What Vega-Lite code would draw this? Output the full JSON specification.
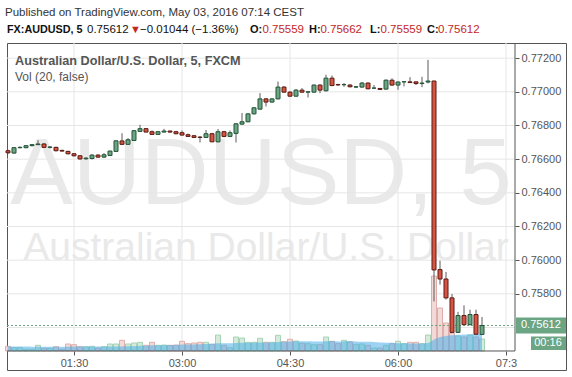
{
  "$schema": "https://vega.github.io/schema/vega-lite/v6.json",
  "width": 559,
  "height": 327,
  "autosize": {"type": "none"},
  "padding": {"left": 7, "top": 43, "right": 6, "bottom": 7},
  "background": "#ffffff",
  "config": {
    "view": {"stroke": "#555555", "fill": "#ffffff", "strokeWidth": 1},
    "scale": {"continuousPadding": 0},
    "axis": {"grid": false, "domain": false, "labelFont": "Liberation Sans", "labelFontSize": 11, "labelColor": "#555555", "tickColor": "#555555", "tickSize": 4, "labelPadding": 2},
    "text": {"font": "Liberation Sans"}
  },
  "datasets": {
    "candles": [
      {"t":"2016-05-03T00:35:00","o":0.76650,"h":0.76656,"l":0.76630,"c":0.76638,"v":94,"m":92},
      {"t":"2016-05-03T00:40:00","o":0.76636,"h":0.76672,"l":0.76632,"c":0.76668,"v":66,"m":92},
      {"t":"2016-05-03T00:45:00","o":0.76668,"h":0.76676,"l":0.76664,"c":0.76670,"v":66,"m":90},
      {"t":"2016-05-03T00:50:00","o":0.76668,"h":0.76684,"l":0.76665,"c":0.76680,"v":34,"m":88},
      {"t":"2016-05-03T00:55:00","o":0.76680,"h":0.76690,"l":0.76676,"c":0.76686,"v":34,"m":86},
      {"t":"2016-05-03T01:00:00","o":0.76686,"h":0.76712,"l":0.76684,"c":0.76690,"v":114,"m":86},
      {"t":"2016-05-03T01:05:00","o":0.76690,"h":0.76696,"l":0.76666,"c":0.76670,"v":54,"m":85},
      {"t":"2016-05-03T01:10:00","o":0.76670,"h":0.76678,"l":0.76664,"c":0.76672,"v":54,"m":84},
      {"t":"2016-05-03T01:15:00","o":0.76670,"h":0.76674,"l":0.76646,"c":0.76650,"v":86,"m":84},
      {"t":"2016-05-03T01:20:00","o":0.76652,"h":0.76656,"l":0.76645,"c":0.76648,"v":34,"m":84},
      {"t":"2016-05-03T01:25:00","o":0.76646,"h":0.76650,"l":0.76628,"c":0.76632,"v":140,"m":86},
      {"t":"2016-05-03T01:30:00","o":0.76632,"h":0.76636,"l":0.76616,"c":0.76620,"v":126,"m":88},
      {"t":"2016-05-03T01:35:00","o":0.76620,"h":0.76624,"l":0.76598,"c":0.76601,"v":86,"m":88},
      {"t":"2016-05-03T01:40:00","o":0.76602,"h":0.76612,"l":0.76596,"c":0.76606,"v":86,"m":88},
      {"t":"2016-05-03T01:45:00","o":0.76604,"h":0.76630,"l":0.76598,"c":0.76624,"v":94,"m":88},
      {"t":"2016-05-03T01:50:00","o":0.76624,"h":0.76630,"l":0.76608,"c":0.76612,"v":60,"m":88},
      {"t":"2016-05-03T01:55:00","o":0.76612,"h":0.76636,"l":0.76608,"c":0.76626,"v":86,"m":89},
      {"t":"2016-05-03T02:00:00","o":0.76622,"h":0.76650,"l":0.76618,"c":0.76648,"v":140,"m":90},
      {"t":"2016-05-03T02:05:00","o":0.76646,"h":0.76712,"l":0.76644,"c":0.76709,"v":140,"m":90},
      {"t":"2016-05-03T02:10:00","o":0.76708,"h":0.76754,"l":0.76685,"c":0.76688,"v":214,"m":90},
      {"t":"2016-05-03T02:15:00","o":0.76688,"h":0.76725,"l":0.76684,"c":0.76715,"v":140,"m":93},
      {"t":"2016-05-03T02:20:00","o":0.76711,"h":0.76772,"l":0.76708,"c":0.76769,"v":160,"m":97},
      {"t":"2016-05-03T02:25:00","o":0.76765,"h":0.76804,"l":0.76762,"c":0.76781,"v":174,"m":103},
      {"t":"2016-05-03T02:30:00","o":0.76781,"h":0.76784,"l":0.76758,"c":0.76761,"v":114,"m":107},
      {"t":"2016-05-03T02:35:00","o":0.76763,"h":0.76770,"l":0.76744,"c":0.76747,"v":174,"m":114},
      {"t":"2016-05-03T02:40:00","o":0.76747,"h":0.76766,"l":0.76744,"c":0.76763,"v":114,"m":114},
      {"t":"2016-05-03T02:45:00","o":0.76761,"h":0.76780,"l":0.76758,"c":0.76767,"v":120,"m":117},
      {"t":"2016-05-03T02:50:00","o":0.76767,"h":0.76770,"l":0.76756,"c":0.76761,"v":114,"m":120},
      {"t":"2016-05-03T02:55:00","o":0.76763,"h":0.76768,"l":0.76748,"c":0.76751,"v":120,"m":122},
      {"t":"2016-05-03T03:00:00","o":0.76757,"h":0.76770,"l":0.76740,"c":0.76743,"v":194,"m":130},
      {"t":"2016-05-03T03:05:00","o":0.76745,"h":0.76752,"l":0.76732,"c":0.76735,"v":146,"m":130},
      {"t":"2016-05-03T03:10:00","o":0.76739,"h":0.76742,"l":0.76726,"c":0.76729,"v":160,"m":132},
      {"t":"2016-05-03T03:15:00","o":0.76731,"h":0.76736,"l":0.76699,"c":0.76729,"v":174,"m":136},
      {"t":"2016-05-03T03:20:00","o":0.76729,"h":0.76773,"l":0.76726,"c":0.76751,"v":174,"m":141},
      {"t":"2016-05-03T03:25:00","o":0.76751,"h":0.76756,"l":0.76701,"c":0.76703,"v":134,"m":143},
      {"t":"2016-05-03T03:30:00","o":0.76703,"h":0.76779,"l":0.76700,"c":0.76763,"v":320,"m":156},
      {"t":"2016-05-03T03:35:00","o":0.76763,"h":0.76768,"l":0.76730,"c":0.76735,"v":114,"m":157},
      {"t":"2016-05-03T03:40:00","o":0.76735,"h":0.76770,"l":0.76732,"c":0.76757,"v":66,"m":153},
      {"t":"2016-05-03T03:45:00","o":0.76753,"h":0.76812,"l":0.76699,"c":0.76810,"v":280,"m":160},
      {"t":"2016-05-03T03:50:00","o":0.76808,"h":0.76874,"l":0.76805,"c":0.76822,"v":260,"m":163},
      {"t":"2016-05-03T03:55:00","o":0.76822,"h":0.76872,"l":0.76819,"c":0.76869,"v":174,"m":164},
      {"t":"2016-05-03T04:00:00","o":0.76869,"h":0.76908,"l":0.76866,"c":0.76905,"v":174,"m":165},
      {"t":"2016-05-03T04:05:00","o":0.76897,"h":0.76992,"l":0.76894,"c":0.76958,"v":254,"m":169},
      {"t":"2016-05-03T04:10:00","o":0.76958,"h":0.76962,"l":0.76913,"c":0.76939,"v":174,"m":172},
      {"t":"2016-05-03T04:15:00","o":0.76939,"h":0.76962,"l":0.76936,"c":0.76958,"v":174,"m":172},
      {"t":"2016-05-03T04:20:00","o":0.76958,"h":0.77061,"l":0.76955,"c":0.77028,"v":314,"m":182},
      {"t":"2016-05-03T04:25:00","o":0.77028,"h":0.77034,"l":0.76995,"c":0.76998,"v":186,"m":185},
      {"t":"2016-05-03T04:30:00","o":0.76998,"h":0.77004,"l":0.76970,"c":0.76974,"v":234,"m":191},
      {"t":"2016-05-03T04:35:00","o":0.76974,"h":0.77016,"l":0.76970,"c":0.77010,"v":200,"m":195},
      {"t":"2016-05-03T04:40:00","o":0.77010,"h":0.77022,"l":0.76995,"c":0.76998,"v":154,"m":193},
      {"t":"2016-05-03T04:45:00","o":0.76998,"h":0.77002,"l":0.76966,"c":0.77000,"v":146,"m":193},
      {"t":"2016-05-03T04:50:00","o":0.76998,"h":0.77044,"l":0.76995,"c":0.77040,"v":126,"m":192},
      {"t":"2016-05-03T04:55:00","o":0.77040,"h":0.77044,"l":0.76992,"c":0.77010,"v":126,"m":189},
      {"t":"2016-05-03T05:00:00","o":0.77006,"h":0.77101,"l":0.77002,"c":0.77081,"v":280,"m":195},
      {"t":"2016-05-03T05:05:00","o":0.77081,"h":0.77097,"l":0.77034,"c":0.77037,"v":194,"m":198},
      {"t":"2016-05-03T05:10:00","o":0.77043,"h":0.77048,"l":0.77036,"c":0.77041,"v":146,"m":189},
      {"t":"2016-05-03T05:15:00","o":0.77042,"h":0.77052,"l":0.77030,"c":0.77043,"v":214,"m":194},
      {"t":"2016-05-03T05:20:00","o":0.77040,"h":0.77046,"l":0.77026,"c":0.77030,"v":180,"m":200},
      {"t":"2016-05-03T05:25:00","o":0.77028,"h":0.77034,"l":0.77022,"c":0.77030,"v":134,"m":192},
      {"t":"2016-05-03T05:30:00","o":0.77028,"h":0.77058,"l":0.77025,"c":0.77052,"v":140,"m":186},
      {"t":"2016-05-03T05:35:00","o":0.77052,"h":0.77056,"l":0.77015,"c":0.77018,"v":114,"m":183},
      {"t":"2016-05-03T05:40:00","o":0.77022,"h":0.77040,"l":0.77018,"c":0.77022,"v":60,"m":178},
      {"t":"2016-05-03T05:45:00","o":0.77020,"h":0.77022,"l":0.77012,"c":0.77014,"v":60,"m":168},
      {"t":"2016-05-03T05:50:00","o":0.77016,"h":0.77074,"l":0.77014,"c":0.77069,"v":114,"m":165},
      {"t":"2016-05-03T05:55:00","o":0.77069,"h":0.77080,"l":0.77036,"c":0.77040,"v":146,"m":163},
      {"t":"2016-05-03T06:00:00","o":0.77040,"h":0.77062,"l":0.77012,"c":0.77058,"v":194,"m":157},
      {"t":"2016-05-03T06:05:00","o":0.77059,"h":0.77064,"l":0.77032,"c":0.77060,"v":146,"m":155},
      {"t":"2016-05-03T06:10:00","o":0.77059,"h":0.77087,"l":0.77052,"c":0.77055,"v":174,"m":152},
      {"t":"2016-05-03T06:15:00","o":0.77059,"h":0.77062,"l":0.77040,"c":0.77049,"v":174,"m":151},
      {"t":"2016-05-03T06:20:00","o":0.77049,"h":0.77089,"l":0.77028,"c":0.77052,"v":146,"m":151},
      {"t":"2016-05-03T06:25:00","o":0.77058,"h":0.77190,"l":0.77050,"c":0.77064,"v":320,"m":159},
      {"t":"2016-05-03T06:30:00","o":0.77064,"h":0.77066,"l":0.75755,"c":0.75942,"v":1500,"m":228},
      {"t":"2016-05-03T06:35:00","o":0.75944,"h":0.75997,"l":0.75855,"c":0.75888,"v":860,"m":280},
      {"t":"2016-05-03T06:40:00","o":0.75888,"h":0.75930,"l":0.75766,"c":0.75776,"v":560,"m":300},
      {"t":"2016-05-03T06:45:00","o":0.75776,"h":0.75799,"l":0.75568,"c":0.75571,"v":360,"m":314},
      {"t":"2016-05-03T06:50:00","o":0.75571,"h":0.75693,"l":0.75568,"c":0.75671,"v":300,"m":324},
      {"t":"2016-05-03T06:55:00","o":0.75671,"h":0.75732,"l":0.75617,"c":0.75617,"v":280,"m":330},
      {"t":"2016-05-03T07:00:00","o":0.75617,"h":0.75706,"l":0.75614,"c":0.75677,"v":320,"m":336},
      {"t":"2016-05-03T07:05:00","o":0.75677,"h":0.75706,"l":0.75558,"c":0.75560,"v":280,"m":340},
      {"t":"2016-05-03T07:10:00","o":0.75559,"h":0.75662,"l":0.75559,"c":0.75612,"v":240,"m":340}
    ]
  },
  "layer": [
    {
      "layer": [
        {
          "data": {"values": [{}]},
          "mark": {"type": "text", "text": "AUDUSD, 5", "align": "center", "baseline": "alphabetic", "fontSize": 94, "color": "#e9e9e9"},
          "encoding": {
            "x": {"datum": {"year": 2016, "month": 5, "date": 3, "hours": 4, "minutes": 5, "seconds": 50}, "type": "temporal", "scale": {"domain": [{"year": 2016, "month": 5, "date": 3, "hours": 0, "minutes": 34, "seconds": 10}, {"year": 2016, "month": 5, "date": 3, "hours": 8, "minutes": 20, "seconds": 0}], "nice": false, "padding": 0}},
            "y": {"datum": 0.763336, "type": "quantitative", "scale": {"domain": [0.753476, 0.772899], "nice": false, "zero": false}, "axis": null}
          }
        },
        {
          "data": {"values": [{}]},
          "mark": {"type": "text", "text": "Australian Dollar/U.S. Dollar", "align": "center", "baseline": "alphabetic", "fontSize": 39, "color": "#e9e9e9"},
          "encoding": {
            "x": {"datum": {"year": 2016, "month": 5, "date": 3, "hours": 4, "minutes": 10, "seconds": 0}, "type": "temporal"},
            "y": {"datum": 0.760010, "type": "quantitative"}
          }
        },
        {
          "data": {"values": [{"g": "2016-05-03T01:30:00"}, {"g": "2016-05-03T03:00:00"}, {"g": "2016-05-03T04:30:00"}, {"g": "2016-05-03T06:00:00"}, {"g": "2016-05-03T07:30:00"}]},
          "mark": {"type": "rule", "color": "#e6e6e6", "strokeWidth": 1},
          "encoding": {
            "x": {"field": "g", "type": "temporal"},
            "y": {"datum": 0.772899, "type": "quantitative"},
            "y2": {"datum": 0.754605}
          }
        },
        {
          "data": {"values": [{"g": 0.756}, {"g": 0.758}, {"g": 0.760}, {"g": 0.762}, {"g": 0.764}, {"g": 0.766}, {"g": 0.768}, {"g": 0.770}, {"g": 0.772}]},
          "mark": {"type": "rule", "color": "#e6e6e6", "strokeWidth": 1},
          "encoding": {
            "y": {"field": "g", "type": "quantitative"},
            "x": {"datum": {"year": 2016, "month": 5, "date": 3, "hours": 0, "minutes": 34, "seconds": 10}, "type": "temporal"},
            "x2": {"datum": {"year": 2016, "month": 5, "date": 3, "hours": 7, "minutes": 37, "seconds": 30}}
          }
        }
      ]
    },
    {
      "data": {"name": "candles"},
      "layer": [
        {
          "mark": {"type": "bar", "width": 5, "strokeWidth": 1},
          "encoding": {
            "x": {"field": "t", "type": "temporal"},
            "y": {"field": "v", "type": "quantitative", "scale": {"domain": [-380, 6160], "nice": false, "zero": false}, "axis": null},
            "y2": {"datum": 0},
            "fill": {"condition": {"test": "datum.c >= datum.o", "value": "#cfe8d6"}, "value": "#f1d6d4"},
            "stroke": {"condition": {"test": "datum.c >= datum.o", "value": "#a6d3b3"}, "value": "#dfaeaa"},
            "fillOpacity": {"value": 0.9}
          }
        },
        {
          "mark": {"type": "area", "interpolate": "monotone", "color": "#4aaeea", "opacity": 0.55},
          "encoding": {
            "x": {"field": "t", "type": "temporal"},
            "y": {"field": "m", "type": "quantitative"},
            "y2": {"datum": 0}
          }
        }
      ]
    },
    {
      "layer": [
        {
          "data": {"values": [{}]},
          "mark": {"type": "rule", "color": "#555555", "strokeWidth": 1},
          "encoding": {
            "x": {"datum": {"year": 2016, "month": 5, "date": 3, "hours": 7, "minutes": 37, "seconds": 30}, "type": "temporal"},
            "y": {"datum": 0.772899, "type": "quantitative"},
            "y2": {"datum": 0.754605}
          }
        },
        {
          "data": {"values": [{}]},
          "mark": {"type": "rule", "color": "#555555", "strokeWidth": 1},
          "encoding": {
            "y": {"datum": 0.754605, "type": "quantitative"},
            "x": {"datum": {"year": 2016, "month": 5, "date": 3, "hours": 0, "minutes": 34, "seconds": 10}, "type": "temporal"},
            "x2": {"datum": {"year": 2016, "month": 5, "date": 3, "hours": 7, "minutes": 37, "seconds": 30}}
          }
        },
        {
          "data": {"values": [{}]},
          "mark": {"type": "rule", "color": "#6ba583", "strokeWidth": 1, "strokeDash": [2, 2]},
          "encoding": {
            "y": {"datum": 0.75612, "type": "quantitative"},
            "x": {"datum": {"year": 2016, "month": 5, "date": 3, "hours": 0, "minutes": 34, "seconds": 10}, "type": "temporal"},
            "x2": {"datum": {"year": 2016, "month": 5, "date": 3, "hours": 7, "minutes": 37, "seconds": 30}}
          }
        },
        {
          "data": {"name": "candles"},
          "mark": {"type": "rule", "color": "#5a5a5a", "strokeWidth": 1},
          "encoding": {
            "x": {"field": "t", "type": "temporal", "axis": {"orient": "bottom", "offset": -19, "values": [{"year": 2016, "month": 5, "date": 3, "hours": 1, "minutes": 30}, {"year": 2016, "month": 5, "date": 3, "hours": 3, "minutes": 0}, {"year": 2016, "month": 5, "date": 3, "hours": 4, "minutes": 30}, {"year": 2016, "month": 5, "date": 3, "hours": 6, "minutes": 0}, {"year": 2016, "month": 5, "date": 3, "hours": 7, "minutes": 30}], "format": "%H:%M", "labelExpr": "datum.label == '07:30' ? '07:3' : datum.label", "labelFlush": false, "labelOverlap": false, "labelBound": false, "title": null}},
            "y": {"field": "l", "type": "quantitative", "scale": {"domain": [0.753476, 0.772899], "nice": false, "zero": false}, "axis": {"orient": "right", "offset": -51, "values": [0.758, 0.760, 0.762, 0.764, 0.766, 0.768, 0.770, 0.772], "format": ".5f", "title": null, "labelPadding": 2}},
            "y2": {"field": "h"}
          }
        },
        {
          "data": {"name": "candles"},
          "mark": {"type": "bar", "width": 4, "strokeWidth": 1},
          "encoding": {
            "x": {"field": "t", "type": "temporal"},
            "y": {"field": "o", "type": "quantitative"},
            "y2": {"field": "c"},
            "fill": {"condition": {"test": "datum.c >= datum.o", "value": "#6ba583"}, "value": "#d75442"},
            "stroke": {"condition": {"test": "datum.c >= datum.o", "value": "#225437"}, "value": "#5b1a13"}
          }
        },
        {
          "data": {"values": [{}]},
          "mark": {"type": "text", "text": "Australian Dollar/U.S. Dollar, 5, FXCM", "align": "left", "baseline": "alphabetic", "fontSize": 12.7, "fontWeight": "bold", "color": "#555555"},
          "encoding": {
            "x": {"datum": {"year": 2016, "month": 5, "date": 3, "hours": 0, "minutes": 40, "seconds": 50}, "type": "temporal"},
            "y": {"datum": 0.771592, "type": "quantitative"}
          }
        },
        {
          "data": {"values": [{}]},
          "mark": {"type": "text", "text": "Vol (20, false)", "align": "left", "baseline": "alphabetic", "fontSize": 12, "color": "#555555"},
          "encoding": {
            "x": {"datum": {"year": 2016, "month": 5, "date": 3, "hours": 0, "minutes": 40, "seconds": 50}, "type": "temporal"},
            "y": {"datum": 0.770641, "type": "quantitative"}
          }
        },
        {
          "data": {"values": [{}]},
          "mark": {"type": "rect", "color": "#6ba583"},
          "encoding": {
            "x": {"datum": {"year": 2016, "month": 5, "date": 3, "hours": 7, "minutes": 38, "seconds": 20}, "type": "temporal"},
            "x2": {"datum": {"year": 2016, "month": 5, "date": 3, "hours": 8, "minutes": 20, "seconds": 0}},
            "y": {"datum": 0.755645, "type": "quantitative"},
            "y2": {"datum": 0.756595}
          }
        },
        {
          "data": {"values": [{}]},
          "mark": {"type": "rect", "color": "#6ba583"},
          "encoding": {
            "x": {"datum": {"year": 2016, "month": 5, "date": 3, "hours": 7, "minutes": 50, "seconds": 50}, "type": "temporal"},
            "x2": {"datum": {"year": 2016, "month": 5, "date": 3, "hours": 8, "minutes": 20, "seconds": 0}},
            "y": {"datum": 0.754664, "type": "quantitative"},
            "y2": {"datum": 0.755466}
          }
        },
        {
          "data": {"values": [{}]},
          "mark": {"type": "text", "text": "0.75612", "align": "left", "baseline": "middle", "fontSize": 11, "color": "#ffffff"},
          "encoding": {
            "x": {"datum": {"year": 2016, "month": 5, "date": 3, "hours": 7, "minutes": 42, "seconds": 30}, "type": "temporal"},
            "y": {"datum": 0.75612, "type": "quantitative"}
          }
        },
        {
          "data": {"values": [{}]},
          "mark": {"type": "text", "text": "00:16", "align": "center", "baseline": "middle", "fontSize": 11, "color": "#ffffff"},
          "encoding": {
            "x": {"datum": {"year": 2016, "month": 5, "date": 3, "hours": 8, "minutes": 5, "seconds": 0}, "type": "temporal"},
            "y": {"datum": 0.755065, "type": "quantitative"}
          }
        },
        {
          "data": {"values": [{}]},
          "mark": {"type": "text", "text": "Published on TradingView.com, May 03, 2016 07:14 CEST", "align": "left", "baseline": "alphabetic", "fontSize": 11.5, "color": "#333333"},
          "encoding": {
            "x": {"datum": {"year": 2016, "month": 5, "date": 3, "hours": 0, "minutes": 32, "seconds": 30}, "type": "temporal"},
            "y": {"datum": 0.774502, "type": "quantitative"}
          }
        },
        {
          "data": {"values": [{}]},
          "mark": {"type": "text", "text": "FX:AUDUSD, 5", "align": "left", "baseline": "alphabetic", "fontSize": 10.8, "fontWeight": "bold", "color": "#111111"},
          "encoding": {
            "x": {"datum": {"year": 2016, "month": 5, "date": 3, "hours": 0, "minutes": 34, "seconds": 10}, "type": "temporal"},
            "y": {"datum": 0.773493, "type": "quantitative"}
          }
        },
        {
          "data": {"values": [{}]},
          "mark": {"type": "text", "text": "0.75612", "align": "left", "baseline": "alphabetic", "fontSize": 11.5, "color": "#111111"},
          "encoding": {
            "x": {"datum": {"year": 2016, "month": 5, "date": 3, "hours": 1, "minutes": 40, "seconds": 50}, "type": "temporal"},
            "y": {"datum": 0.773493, "type": "quantitative"}
          }
        },
        {
          "data": {"values": [{}]},
          "mark": {"type": "text", "text": "▼", "align": "left", "baseline": "alphabetic", "fontSize": 11, "color": "#c4271f"},
          "encoding": {
            "x": {"datum": {"year": 2016, "month": 5, "date": 3, "hours": 2, "minutes": 16, "seconds": 40}, "type": "temporal"},
            "y": {"datum": 0.773493, "type": "quantitative"}
          }
        },
        {
          "data": {"values": [{}]},
          "mark": {"type": "text", "text": "−0.01044 (−1.36%)", "align": "left", "baseline": "alphabetic", "fontSize": 11.5, "color": "#111111"},
          "encoding": {
            "x": {"datum": {"year": 2016, "month": 5, "date": 3, "hours": 2, "minutes": 25, "seconds": 0}, "type": "temporal"},
            "y": {"datum": 0.773493, "type": "quantitative"}
          }
        },
        {
          "data": {"values": [{}]},
          "mark": {"type": "text", "text": "O:", "align": "left", "baseline": "alphabetic", "fontSize": 11, "fontWeight": "bold", "color": "#111111"},
          "encoding": {
            "x": {"datum": {"year": 2016, "month": 5, "date": 3, "hours": 3, "minutes": 56, "seconds": 40}, "type": "temporal"},
            "y": {"datum": 0.773493, "type": "quantitative"}
          }
        },
        {
          "data": {"values": [{}]},
          "mark": {"type": "text", "text": "0.75559", "align": "left", "baseline": "alphabetic", "fontSize": 11.5, "color": "#c4271f"},
          "encoding": {
            "x": {"datum": {"year": 2016, "month": 5, "date": 3, "hours": 4, "minutes": 7, "seconds": 0}, "type": "temporal"},
            "y": {"datum": 0.773493, "type": "quantitative"}
          }
        },
        {
          "data": {"values": [{}]},
          "mark": {"type": "text", "text": "H:", "align": "left", "baseline": "alphabetic", "fontSize": 11, "fontWeight": "bold", "color": "#111111"},
          "encoding": {
            "x": {"datum": {"year": 2016, "month": 5, "date": 3, "hours": 4, "minutes": 45, "seconds": 50}, "type": "temporal"},
            "y": {"datum": 0.773493, "type": "quantitative"}
          }
        },
        {
          "data": {"values": [{}]},
          "mark": {"type": "text", "text": "0.75662", "align": "left", "baseline": "alphabetic", "fontSize": 11.5, "color": "#c4271f"},
          "encoding": {
            "x": {"datum": {"year": 2016, "month": 5, "date": 3, "hours": 4, "minutes": 55, "seconds": 20}, "type": "temporal"},
            "y": {"datum": 0.773493, "type": "quantitative"}
          }
        },
        {
          "data": {"values": [{}]},
          "mark": {"type": "text", "text": "L:", "align": "left", "baseline": "alphabetic", "fontSize": 11, "fontWeight": "bold", "color": "#111111"},
          "encoding": {
            "x": {"datum": {"year": 2016, "month": 5, "date": 3, "hours": 5, "minutes": 36, "seconds": 40}, "type": "temporal"},
            "y": {"datum": 0.773493, "type": "quantitative"}
          }
        },
        {
          "data": {"values": [{}]},
          "mark": {"type": "text", "text": "0.75559", "align": "left", "baseline": "alphabetic", "fontSize": 11.5, "color": "#c4271f"},
          "encoding": {
            "x": {"datum": {"year": 2016, "month": 5, "date": 3, "hours": 5, "minutes": 45, "seconds": 25}, "type": "temporal"},
            "y": {"datum": 0.773493, "type": "quantitative"}
          }
        },
        {
          "data": {"values": [{}]},
          "mark": {"type": "text", "text": "C:", "align": "left", "baseline": "alphabetic", "fontSize": 11, "fontWeight": "bold", "color": "#111111"},
          "encoding": {
            "x": {"datum": {"year": 2016, "month": 5, "date": 3, "hours": 6, "minutes": 24, "seconds": 10}, "type": "temporal"},
            "y": {"datum": 0.773493, "type": "quantitative"}
          }
        },
        {
          "data": {"values": [{}]},
          "mark": {"type": "text", "text": "0.75612", "align": "left", "baseline": "alphabetic", "fontSize": 11.5, "color": "#c4271f"},
          "encoding": {
            "x": {"datum": {"year": 2016, "month": 5, "date": 3, "hours": 6, "minutes": 33, "seconds": 20}, "type": "temporal"},
            "y": {"datum": 0.773493, "type": "quantitative"}
          }
        }
      ]
    }
  ],
  "resolve": {"scale": {"y": "independent"}, "axis": {"y": "independent"}}
}
